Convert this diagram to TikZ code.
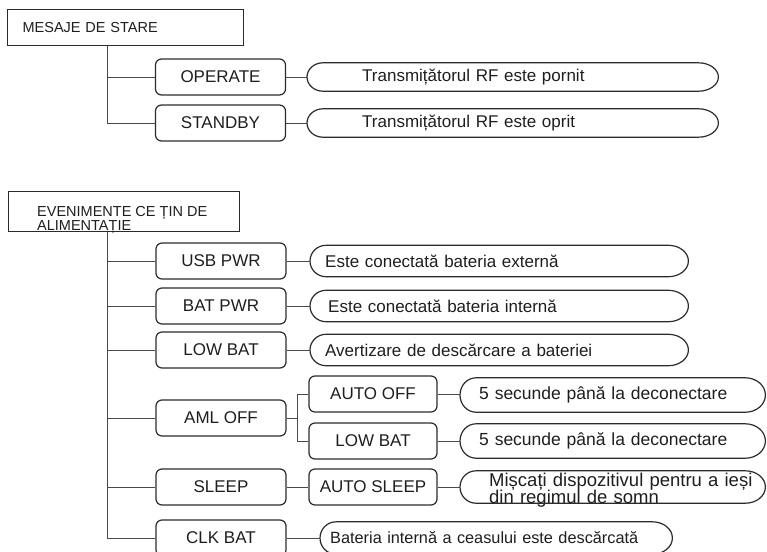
\documentclass[tikz,border=0pt]{standalone}
\usepackage{fontspec}
\setmainfont{Liberation Sans}
\usetikzlibrary{calc}
\definecolor{lc}{HTML}{2B2B2B}
\definecolor{cc}{HTML}{4A4A4A}
\definecolor{tc}{HTML}{1E1E1E}
\newcommand\capoutline[1]{%
 \draw[capline] let \p1=(#1.north west), \p2=(#1.south east), \n1={(\y1-\y2)/2} in
 (\x1+16pt,\y1) -- (\x2-20pt,\y1) arc[start angle=90,end angle=-90,x radius=20pt,y radius=\n1]
 -- (\x1+16pt,\y2) arc[start angle=270,end angle=90,x radius=16pt,y radius=\n1] -- cycle;}
\begin{document}
\begin{tikzpicture}[x=1pt,y=-1pt,
 hdr/.style={draw=lc,line width=1.2pt,inner sep=0pt,anchor=north west,align=left,text=tc,font=\fontsize{14.5}{13.5}\selectfont},
 hdrtext/.style={inner sep=0pt,anchor=base west,align=left,text=tc,font=\fontsize{14.5}{13.5}\selectfont},
 box/.style={draw=lc,line width=1.2pt,rounded corners=6pt,minimum width=130pt,minimum height=36pt,inner sep=0pt,text=tc,font=\fontsize{17}{17}\selectfont},
 sbox/.style={box,minimum width=128pt},
 capn/.style={inner sep=0pt,anchor=west,align=left,text=tc,font=\fontsize{17}{14}\selectfont},
 capline/.style={draw=lc,line width=1.2pt},
 conn/.style={draw=cc,line width=1pt}]
\useasboundingbox (0,0) rectangle (767,551);

% ---------- top section ----------
\node[hdr,minimum width=236pt,minimum height=36pt,text width=236pt] (mes) at (7,9) {\hspace*{15pt}MESAJE DE STARE};
\node[box] (op) at (220.5,77) {OPERATE};
\node[box] (stb) at (220.5,123) {STANDBY};
\node[capn,minimum width=411pt,minimum height=28pt,text width=411pt] (c1) at (307,77) {\hspace*{55pt}Transmițătorul RF este pornit};
\node[capn,minimum width=411pt,minimum height=28pt,text width=411pt] (c2) at (307,123) {\hspace*{55pt}Transmițătorul RF este oprit};

\coordinate (t1) at ([xshift=100pt]mes.south west);
\draw[conn] (t1) |- (stb.west);
\draw[conn] (t1 |- op.west) -- (op.west);
\draw[conn] (op.east) -- (c1.west);
\draw[conn] (stb.east) -- (c2.west);

% ---------- bottom section ----------
\node[hdr,minimum width=231pt,minimum height=40pt] (ev) at (8,191) {};
\node[hdrtext] (evt) at (37,230) {EVENIMENTE CE ȚIN DE\\ALIMENTAȚIE};

\node[box] (usb) at (221,261) {USB PWR};
\node[box] (bat) at (221,306) {BAT PWR};
\node[box] (low) at (221,350) {LOW BAT};
\node[box] (aml) at (221,418) {AML OFF};
\node[box] (slp) at (221,487) {SLEEP};
\node[box] (clk) at (221,538) {CLK BAT};

\node[sbox] (aoff) at (373,394) {AUTO OFF};
\node[sbox] (lowb) at (373,441) {LOW BAT};
\node[sbox] (asl) at (373,487) {AUTO SLEEP};

\node[capn,minimum width=378pt,minimum height=31pt,text width=378pt] (cusb) at (310,261) {\hspace*{15pt}Este conectată bateria externă};
\node[capn,minimum width=378pt,minimum height=31pt,text width=378pt] (cbat) at (310,306) {\hspace*{18pt}Este conectată bateria internă};
\node[capn,minimum width=378pt,minimum height=31pt,text width=378pt] (clow) at (310,350) {\hspace*{15pt}Avertizare de descărcare a bateriei};
\node[capn,minimum width=305pt,minimum height=34pt,text width=305pt,font=\fontsize{17.5}{14}\selectfont] (caoff) at (460,395) {\hspace*{19pt}5 secunde până la deconectare};
\node[capn,minimum width=305pt,minimum height=34pt,text width=305pt,font=\fontsize{17.5}{14}\selectfont] (clowb) at (460,441) {\hspace*{19pt}5 secunde până la deconectare};
\node[capn,minimum width=305pt,minimum height=32pt,text width=305pt,font=\fontsize{18.5}{13.5}\selectfont] (casl) at (460,487) {\hspace*{29pt}\raisebox{-7.5pt}[0pt][0pt]{\begin{tabular}{@{}l@{}}Mișcați dispozitivul pentru a ieși\\din regimul de somn\end{tabular}}};
\node[capn,minimum width=352pt,minimum height=32pt,text width=352pt,font=\fontsize{16.3}{14}\selectfont] (cclk) at (320,538) {\hspace*{10pt}Bateria internă a ceasului este descărcată};

\foreach \cn in {c1,c2,cusb,cbat,clow,caoff,clowb,casl,cclk} {\capoutline{\cn}}

\coordinate (t2) at ([xshift=99pt]ev.south west);
\draw[conn] (t2) |- (clk.west);
\foreach \b in {usb,bat,low,aml,slp} {\draw[conn] (t2 |- \b.west) -- (\b.west);}

\coordinate (t3) at ([xshift=11pt]aml.east);
\draw[conn] (aml.east) -- (t3);
\draw[conn] (aoff.west) -| (t3) |- (lowb.west);

\draw[conn] (usb.east) -- (cusb.west);
\draw[conn] (bat.east) -- (cbat.west);
\draw[conn] (low.east) -- (clow.west);
\draw[conn] (aoff.east) -- (aoff.east -| caoff.west);
\draw[conn] (lowb.east) -- (clowb.west);
\draw[conn] (slp.east) -- (asl.west);
\draw[conn] (asl.east) -- (casl.west);
\draw[conn] (clk.east) -- (cclk.west);
\end{tikzpicture}
\end{document}
